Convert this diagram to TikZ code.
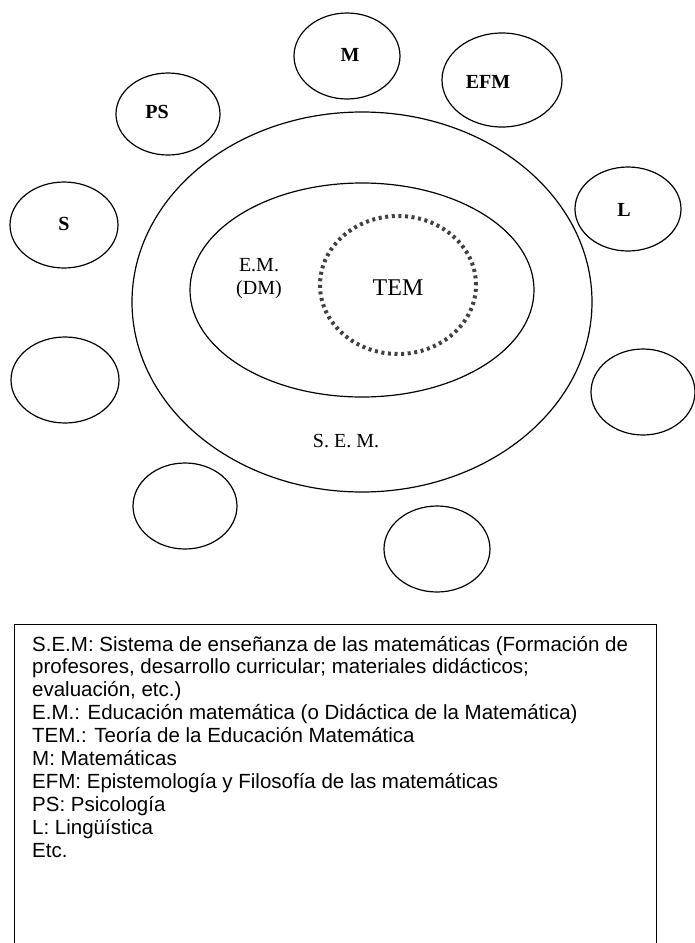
\documentclass[tikz,border=0pt]{standalone}
\usepackage{fontspec}
\setmainfont{Liberation Serif}
\newfontfamily\legendfont{Liberation Sans}
\tikzset{
  ring/.style={line width=1.2pt},
  dotring/.style={line width=4pt,dash pattern=on 3pt off 3.6pt,black!75},
  lbl/.style={font=\fontsize{20}{23}\selectfont},
  legendline/.style={anchor=base west,inner sep=0pt,font=\legendfont\fontsize{20.5}{23}\selectfont}
}
\begin{document}
\begin{tikzpicture}[x=1pt,y=-1pt]
  \useasboundingbox (0,0) rectangle (695,943);
  % neighbouring disciplines
  \draw[ring] (347,56) ellipse (53pt and 43pt);
  \draw[ring] (502,80) ellipse (60pt and 47pt);
  \draw[ring] (168,114) ellipse (52pt and 41pt);
  \draw[ring] (64,225) ellipse (54pt and 43pt);
  \draw[ring] (628,209) ellipse (53pt and 42pt);
  \draw[ring] (65,380) ellipse (54pt and 43pt);
  \draw[ring] (643,392) ellipse (52pt and 43pt);
  \draw[ring] (185,506) ellipse (52pt and 43pt);
  \draw[ring] (437,549) ellipse (53pt and 43pt);
  \node[lbl,font=\bfseries\fontsize{20}{23}\selectfont] (lblM) at (350,55) {M};
  \node[lbl,font=\bfseries\fontsize{20}{23}\selectfont] (lblEFM) at (488,82) {EFM};
  \node[lbl,font=\bfseries\fontsize{20}{23}\selectfont] (lblPS) at (157,112) {PS};
  \node[lbl,font=\bfseries\fontsize{20}{23}\selectfont] (lblS) at (64,224) {S};
  \node[lbl,font=\bfseries\fontsize{20}{23}\selectfont] (lblL) at (624,210) {L};

  % S.E.M. > E.M. > TEM
  \draw[ring] (362,302) ellipse (230pt and 190pt);
  \draw[ring] (362,290) ellipse (172pt and 107pt);
  \draw[dotring] (398,285) ellipse (78pt and 69pt);
  \node[lbl,align=center] (lblEM) at (259,279) {E.M.\\(DM)};
  \node[lbl,font=\fontsize{24}{28}\selectfont] (lblTEM) at (398,288) {TEM};
  \node[lbl] (lblSEM) at (346,441) {S. E. M.};

  % legend
  \coordinate (boxBL) at (14.5,950);
  \coordinate (boxTL) at (14.5,624.5);
  \coordinate (boxTR) at (656.5,624.5);
  \coordinate (boxBR) at (656.5,950);
  \draw[line width=1.4pt] (boxBL) -- (boxTL) -- (boxTR) -- (boxBR);
  \foreach \txt [count=\i] in {
      {S.E.M: Sistema de enseñanza de las matemáticas (Formación de},
      {profesores, desarrollo curricular; materiales didácticos;},
      {evaluación, etc.)},
      {E.M.: Educación matemática (o Didáctica de la Matemática)},
      {TEM.: Teoría de la Educación Matemática},
      {M: Matemáticas},
      {EFM: Epistemología y Filosofía de las matemáticas},
      {PS: Psicología},
      {L: Lingüística},
      {Etc.}}
    \node[legendline] (leg\i) at (32,651+22.9*\i-22.9) {\txt};
\end{tikzpicture}
\end{document}
